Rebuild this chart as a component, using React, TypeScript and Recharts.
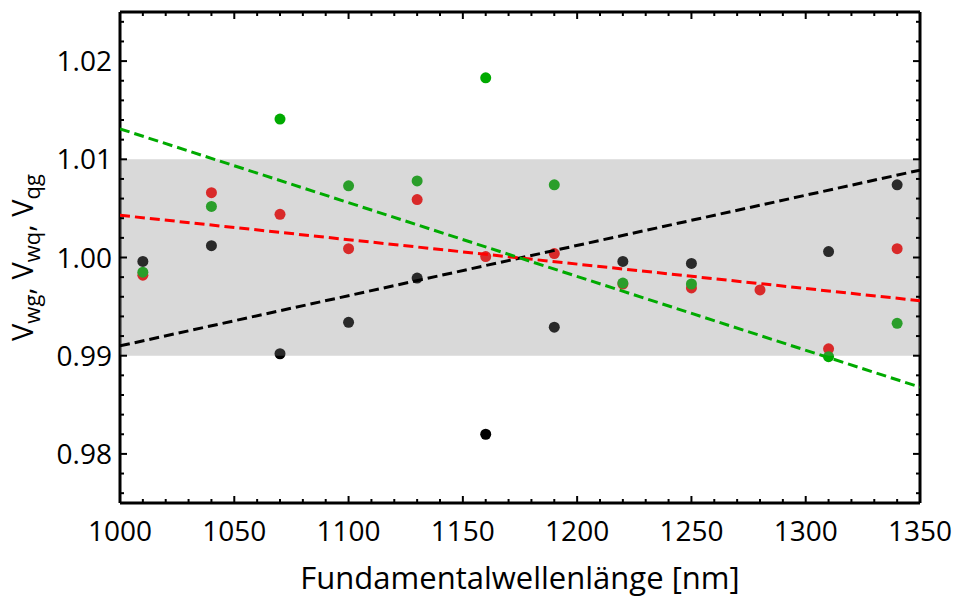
import { ComposedChart, Scatter, XAxis, YAxis, ReferenceArea } from 'recharts'

// Fundamentalwellenlänge [nm]
const wavelengths = [1010, 1040, 1070, 1100, 1130, 1160, 1190, 1220, 1250, 1280, 1310, 1340]

// measured ratios (null = no point)
const vWg = [0.9996, 1.0012, 0.9902, 0.9934, 0.9979, 0.982, 0.9929, 0.9996, 0.9994, null, 1.0006, 1.0074]
const vWq = [0.9982, 1.0066, 1.0044, 1.0009, 1.0059, 1.0001, 1.0004, 0.9973, 0.9969, 0.9967, 0.9907, 1.0009]
const vQg = [0.9985, 1.0052, 1.0141, 1.0073, 1.0078, 1.0183, 1.0074, 0.9974, 0.9973, null, 0.9899, 0.9933]

// linear fits, end points
const fitX = [1000, 1350]
const fitWg = [0.991, 1.0089]
const fitWq = [1.0043, 0.9956]
const fitQg = [1.0131, 0.9868]

// tolerance band
const band = [0.99, 1.01]

const xMajorTicks = [1000, 1050, 1100, 1150, 1200, 1250, 1300, 1350]
const xTicks = [
  1000, 1010, 1020, 1030, 1040, 1050, 1060, 1070, 1080, 1090, 1100, 1110, 1120,
  1130, 1140, 1150, 1160, 1170, 1180, 1190, 1200, 1210, 1220, 1230, 1240, 1250,
  1260, 1270, 1280, 1290, 1300, 1310, 1320, 1330, 1340, 1350,
]
const yMajorTicks = [0.98, 0.99, 1.0, 1.01, 1.02]
const yTicks = [
  0.976, 0.978, 0.98, 0.982, 0.984, 0.986, 0.988, 0.99, 0.992, 0.994, 0.996, 0.998,
  1.0, 1.002, 1.004, 1.006, 1.008, 1.01, 1.012, 1.014, 1.016, 1.018, 1.02, 1.022, 1.024,
]

const FONT = '"Open Sans", sans-serif'

const toPoints = (xs: number[], ys: (number | null)[]) =>
  xs.map((x, i) => ({ x, y: ys[i] })).filter((p) => p.y != null)

const isMajor = (v: number, majors: number[]) => majors.some((m) => Math.abs(m - v) < 1e-6)

const BottomTick = (props: any) => {
  const { x, y, payload } = props
  const major = isMajor(payload.value, xMajorTicks)
  return (
    <g>
      <line x1={x} x2={x} y1={y} y2={y - (major ? 7 : 4)} stroke="#000" strokeWidth={2} />
      {major && (
        <text x={x} y={y + 38} textAnchor="middle" fontSize={28} fontFamily={FONT} fill="#000">
          {payload.value}
        </text>
      )}
    </g>
  )
}

const TopTick = (props: any) => {
  const { x, y, payload } = props
  const major = isMajor(payload.value, xMajorTicks)
  return <line x1={x} x2={x} y1={y} y2={y + (major ? 7 : 4)} stroke="#000" strokeWidth={2} />
}

const LeftTick = (props: any) => {
  const { x, y, payload } = props
  const major = isMajor(payload.value, yMajorTicks)
  return (
    <g>
      <line x1={x} x2={x + (major ? 7 : 4)} y1={y} y2={y} stroke="#000" strokeWidth={2} />
      {major && (
        <text x={x - 8} y={y + 10} textAnchor="end" fontSize={28} fontFamily={FONT} fill="#000">
          {payload.value.toFixed(2)}
        </text>
      )}
    </g>
  )
}

const RightTick = (props: any) => {
  const { x, y, payload } = props
  const major = isMajor(payload.value, yMajorTicks)
  return <line x1={x} x2={x - (major ? 7 : 4)} y1={y} y2={y} stroke="#000" strokeWidth={2} />
}

const YTitle = (props: any) => {
  const { viewBox } = props
  const cx = viewBox.x + 23
  const cy = viewBox.y + viewBox.height / 2
  const sub = { fontSize: 22 }
  return (
    <text
      x={cx}
      y={cy}
      transform={`rotate(-90, ${cx}, ${cy})`}
      textAnchor="middle"
      fontSize={29}
      fontFamily={FONT}
      fill="#000"
    >
      <tspan>V</tspan>
      <tspan {...sub} dy={7}>wg</tspan>
      <tspan dy={-7}>,  V</tspan>
      <tspan {...sub} dy={7}>wq</tspan>
      <tspan dy={-7}>,  V</tspan>
      <tspan {...sub} dy={7}>qg</tspan>
    </text>
  )
}

const Dot = (props: any) => <circle cx={props.cx} cy={props.cy} r={5.5} fill={props.fill} />

const frame = { stroke: '#000', strokeWidth: 3 }
const dash = '10 5'
const hidden = () => <g />

export default function App() {
  return (
    <div style={{ position: 'absolute', left: 0, top: 0, background: '#fff' }}>
      <ComposedChart
        width={958}
        height={599}
        margin={{ top: 11, right: 37, bottom: 0, left: 10 }}
      >
        <XAxis
          dataKey="x"
          type="number"
          domain={[1000, 1350]}
          ticks={xTicks}
          interval={0}
          tickSize={0}
          tickMargin={0}
          tickLine={false}
          axisLine={frame}
          tick={<BottomTick />}
          height={96}
          allowDataOverflow
          label={{
            value: 'Fundamentalwellenlänge [nm]',
            position: 'insideBottom',
            offset: 10,
            style: { fontSize: 31, fontFamily: FONT, fill: '#000' },
          }}
        />
        <XAxis
          xAxisId="top"
          orientation="top"
          dataKey="x"
          type="number"
          domain={[1000, 1350]}
          ticks={xTicks}
          interval={0}
          tickSize={0}
          tickMargin={0}
          tickLine={false}
          axisLine={frame}
          tick={<TopTick />}
          height={1}
          allowDataOverflow
        />
        <YAxis
          dataKey="y"
          type="number"
          domain={[0.975, 1.025]}
          ticks={yTicks}
          interval={0}
          tickSize={0}
          tickMargin={0}
          tickLine={false}
          axisLine={frame}
          tick={<LeftTick />}
          width={110}
          allowDataOverflow
          label={<YTitle />}
        />
        <YAxis
          yAxisId="right"
          orientation="right"
          dataKey="y"
          type="number"
          domain={[0.975, 1.025]}
          ticks={yTicks}
          interval={0}
          tickSize={0}
          tickMargin={0}
          tickLine={false}
          axisLine={frame}
          tick={<RightTick />}
          width={1}
          allowDataOverflow
        />
        <Scatter data={toPoints(wavelengths, vWg)} fill="#000" isAnimationActive={false} shape={Dot} />
        <Scatter data={toPoints(wavelengths, vWq)} fill="#ff0000" isAnimationActive={false} shape={Dot} />
        <Scatter data={toPoints(wavelengths, vQg)} fill="#00aa00" isAnimationActive={false} shape={Dot} />
        <ReferenceArea
          y1={band[0]}
          y2={band[1]}
          fill="#868686"
          fillOpacity={0.314}
          stroke="none"
          zIndex={650}
        />
        <Scatter
          data={toPoints(fitX, fitWg)}
          line={{ stroke: '#000', strokeWidth: 3, strokeDasharray: dash }}
          shape={hidden}
          isAnimationActive={false}
          zIndex={700}
        />
        <Scatter
          data={toPoints(fitX, fitWq)}
          line={{ stroke: '#ff0000', strokeWidth: 3, strokeDasharray: dash }}
          shape={hidden}
          isAnimationActive={false}
          zIndex={700}
        />
        <Scatter
          data={toPoints(fitX, fitQg)}
          line={{ stroke: '#00aa00', strokeWidth: 3, strokeDasharray: dash }}
          shape={hidden}
          isAnimationActive={false}
          zIndex={700}
        />
      </ComposedChart>
    </div>
  )
}
